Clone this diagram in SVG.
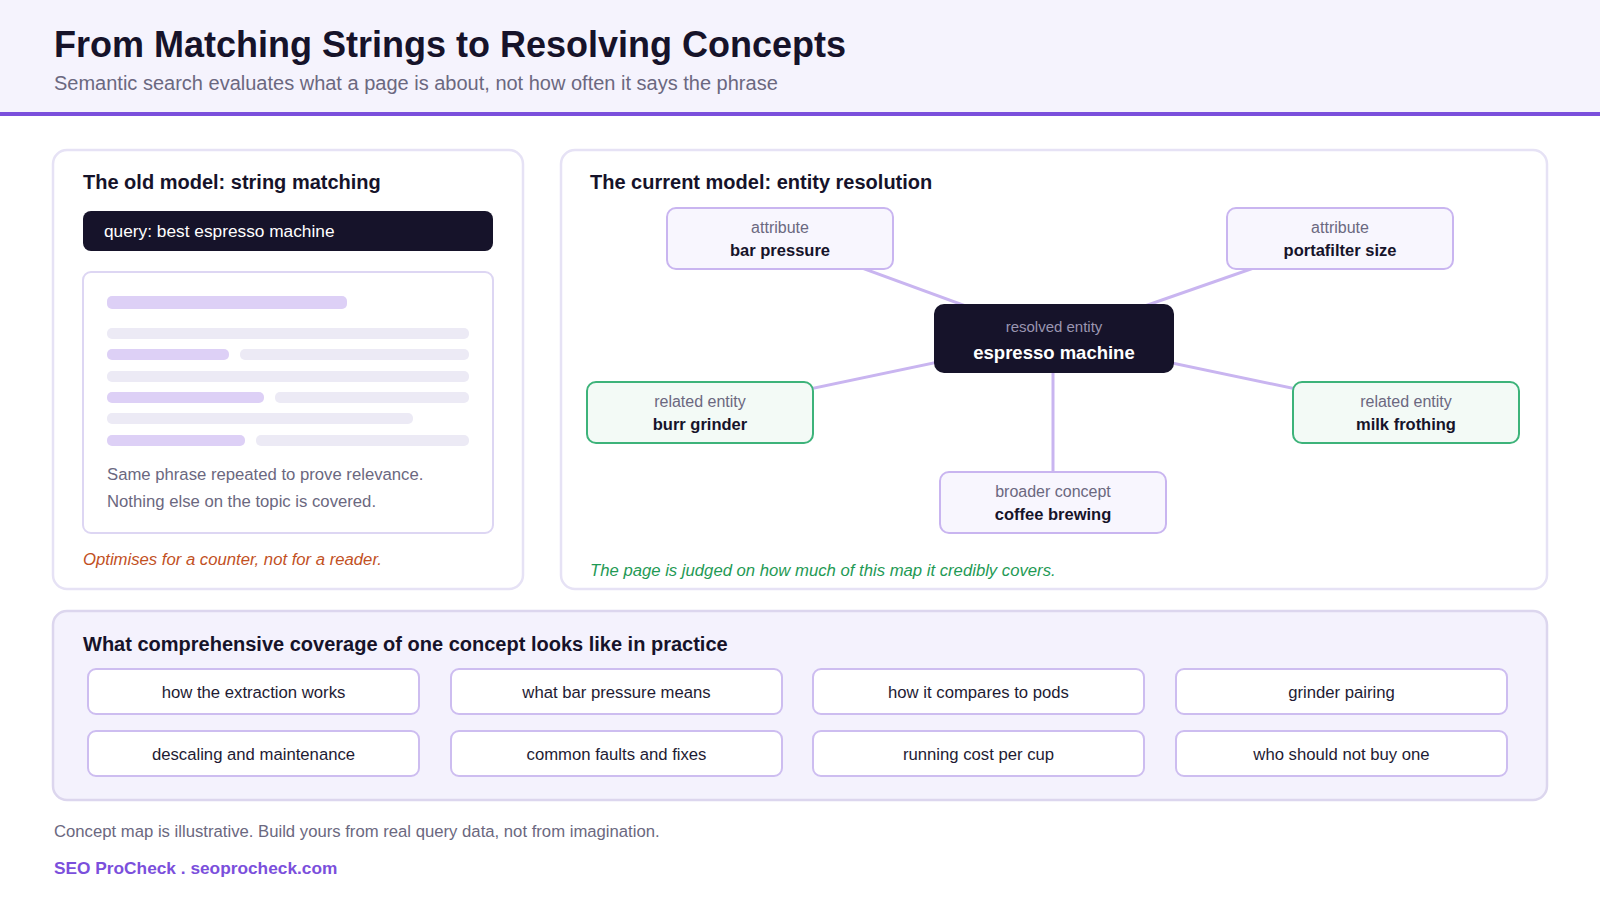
<svg xmlns="http://www.w3.org/2000/svg" width="1600" height="900" viewBox="0 0 1600 900">
<style>
text{font-family:"Liberation Sans",Arial,Helvetica,sans-serif}
.h1{font-size:36px;font-weight:700;fill:#16132A}
.sub{font-size:20px;fill:#6B6880}
.ph{font-size:20px;font-weight:700;fill:#16132A}
.panel{fill:#FFFFFF;stroke:#E6E2F5;stroke-width:2.5}
.bp{fill:#DDD0F6}
.bg{fill:#ECEAF5}
.note{font-size:16.7px;fill:#6B6880}
.lbl{font-size:16px;fill:#6B6880;text-anchor:middle}
.nm{font-size:16.5px;font-weight:700;fill:#16132A;text-anchor:middle}
.attr{fill:#F8F6FE;stroke:#C9B5F0;stroke-width:2}
.rel{fill:#F3FAF6;stroke:#3DB37A;stroke-width:2}
.edge{stroke:#C9B5F0;stroke-width:3;fill:none}
.pill{fill:#FFFFFF;stroke:#CDBDF0;stroke-width:2}
.pt{font-size:16.7px;fill:#1E1B33;text-anchor:middle}
</style>
<rect x="0" y="0" width="1600" height="900" fill="#FFFFFF"/>
<g id="header">
<rect x="0" y="0" width="1600" height="113" fill="#F5F3FD"/>
<rect x="0" y="112" width="1600" height="4" fill="#7B4FDC"/>
<text class="h1" x="54" y="57">From Matching Strings to Resolving Concepts</text>
<text class="sub" x="54" y="90">Semantic search evaluates what a page is about, not how often it says the phrase</text>
</g>
<g id="old-model">
<rect class="panel" x="53" y="150" width="470" height="439" rx="14"/>
<text class="ph" x="83" y="189">The old model: string matching</text>
<rect x="83" y="211" width="410" height="40" rx="8" fill="#16132A"/>
<text x="104" y="237" font-size="17.3" fill="#FFFFFF">query: best espresso machine</text>
<rect x="83" y="272" width="410" height="261" rx="8" fill="#FFFFFF" stroke="#DDD6F3" stroke-width="2"/>
<rect class="bp" x="107" y="296" width="240" height="13" rx="5"/>
<rect class="bg" x="107" y="328" width="362" height="11" rx="5"/>
<rect class="bp" x="107" y="349" width="122" height="11" rx="5"/>
<rect class="bg" x="240" y="349" width="229" height="11" rx="5"/>
<rect class="bg" x="107" y="371" width="362" height="11" rx="5"/>
<rect class="bp" x="107" y="392" width="157" height="11" rx="5"/>
<rect class="bg" x="275" y="392" width="194" height="11" rx="5"/>
<rect class="bg" x="107" y="413" width="306" height="11" rx="5"/>
<rect class="bp" x="107" y="435" width="138" height="11" rx="5"/>
<rect class="bg" x="256" y="435" width="213" height="11" rx="5"/>
<text class="note" x="107" y="480">Same phrase repeated to prove relevance.</text>
<text class="note" x="107" y="507">Nothing else on the topic is covered.</text>
<text x="83" y="565" font-size="16.7" font-style="italic" fill="#C2511F">Optimises for a counter, not for a reader.</text>
</g>
<g id="current-model">
<rect class="panel" x="561" y="150" width="986" height="439" rx="14"/>
<text class="ph" x="590" y="189">The current model: entity resolution</text>
<text x="590" y="576" font-size="16.7" font-style="italic" fill="#1F9A55">The page is judged on how much of this map it credibly covers.</text>
</g>
<g id="connectors">
<line class="edge" x1="1053" y1="338" x2="780" y2="238"/>
<line class="edge" x1="1053" y1="338" x2="1340" y2="238"/>
<line class="edge" x1="1053" y1="338" x2="700" y2="412"/>
<line class="edge" x1="1053" y1="338" x2="1406" y2="412"/>
<line class="edge" x1="1053" y1="338" x2="1053" y2="502"/>
</g>
<g id="node-bar-pressure">
<rect class="attr" x="667" y="208" width="226" height="61" rx="9"/>
<text class="lbl" x="780" y="233">attribute</text>
<text class="nm" x="780" y="256">bar pressure</text>
</g>
<g id="node-portafilter-size">
<rect class="attr" x="1227" y="208" width="226" height="61" rx="9"/>
<text class="lbl" x="1340" y="233">attribute</text>
<text class="nm" x="1340" y="256">portafilter size</text>
</g>
<g id="node-espresso-machine">
<rect x="934" y="304" width="240" height="69" rx="10" fill="#16132A"/>
<text x="1054" y="332" font-size="15" fill="#9A95B0" text-anchor="middle">resolved entity</text>
<text x="1054" y="359" font-size="18.5" font-weight="700" fill="#FFFFFF" text-anchor="middle">espresso machine</text>
</g>
<g id="node-burr-grinder">
<rect class="rel" x="587" y="382" width="226" height="61" rx="9"/>
<text class="lbl" x="700" y="407">related entity</text>
<text class="nm" x="700" y="430">burr grinder</text>
</g>
<g id="node-milk-frothing">
<rect class="rel" x="1293" y="382" width="226" height="61" rx="9"/>
<text class="lbl" x="1406" y="407">related entity</text>
<text class="nm" x="1406" y="430">milk frothing</text>
</g>
<g id="node-coffee-brewing">
<rect class="attr" x="940" y="472" width="226" height="61" rx="9"/>
<text class="lbl" x="1053" y="497">broader concept</text>
<text class="nm" x="1053" y="520">coffee brewing</text>
</g>
<g id="coverage">
<rect x="53" y="611" width="1494" height="189" rx="14" fill="#F4F2FD" stroke="#DCD6EE" stroke-width="2.5"/>
<text class="ph" x="83" y="651">What comprehensive coverage of one concept looks like in practice</text>
<rect class="pill" x="88" y="669" width="331" height="45" rx="8"/>
<text class="pt" x="253.5" y="698">how the extraction works</text>
<rect class="pill" x="451" y="669" width="331" height="45" rx="8"/>
<text class="pt" x="616.5" y="698">what bar pressure means</text>
<rect class="pill" x="813" y="669" width="331" height="45" rx="8"/>
<text class="pt" x="978.5" y="698">how it compares to pods</text>
<rect class="pill" x="1176" y="669" width="331" height="45" rx="8"/>
<text class="pt" x="1341.5" y="698">grinder pairing</text>
<rect class="pill" x="88" y="731" width="331" height="45" rx="8"/>
<text class="pt" x="253.5" y="760">descaling and maintenance</text>
<rect class="pill" x="451" y="731" width="331" height="45" rx="8"/>
<text class="pt" x="616.5" y="760">common faults and fixes</text>
<rect class="pill" x="813" y="731" width="331" height="45" rx="8"/>
<text class="pt" x="978.5" y="760">running cost per cup</text>
<rect class="pill" x="1176" y="731" width="331" height="45" rx="8"/>
<text class="pt" x="1341.5" y="760">who should not buy one</text>
</g>
<g id="footer">
<text x="54" y="837" font-size="16.7" fill="#6B6880">Concept map is illustrative. Build yours from real query data, not from imagination.</text>
<text x="54" y="874" font-size="17.3" font-weight="700" fill="#7B4FDC">SEO ProCheck . seoprocheck.com</text>
</g>
</svg>
